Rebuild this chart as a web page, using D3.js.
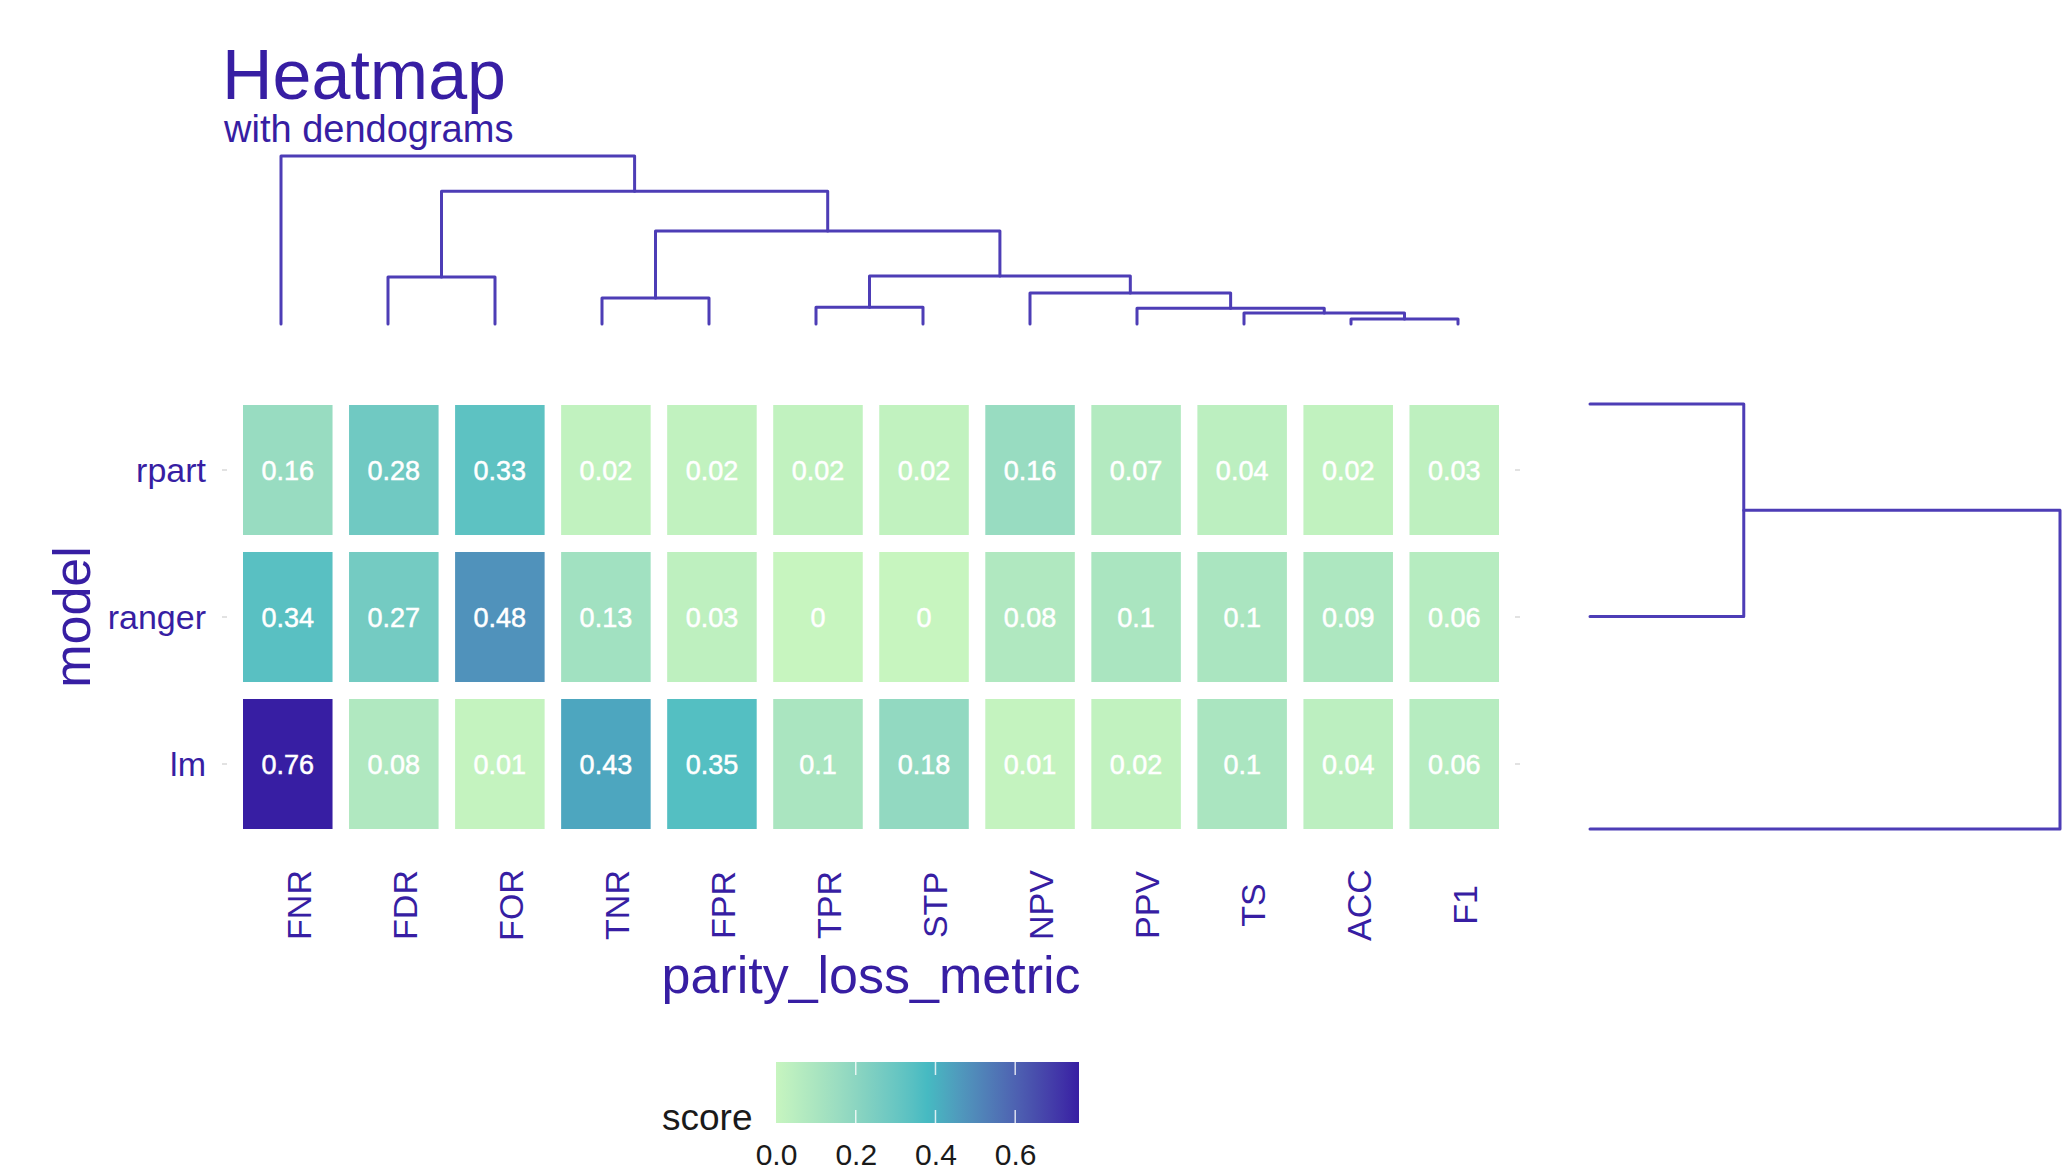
<!DOCTYPE html>
<html>
<head>
<meta charset="utf-8">
<script src="https://cdn.jsdelivr.net/npm/d3@7"></script>
<style>
  html, body { margin: 0; padding: 0; background: #ffffff; }
  svg { display: block; font-family: "Liberation Sans", Arial, Helvetica, sans-serif; }
</style>
</head>
<body>
<svg id="chart" width="2069" height="1170"></svg>
<script>
// ---------- data ----------
const metrics = ["FNR", "FDR", "FOR", "TNR", "FPR", "TPR", "STP", "NPV", "PPV", "TS", "ACC", "F1"];
const models = ["rpart", "ranger", "lm"];
const rpartScores  = [0.16, 0.28, 0.33, 0.02, 0.02, 0.02, 0.02, 0.16, 0.07, 0.04, 0.02, 0.03];
const rangerScores = [0.34, 0.27, 0.48, 0.13, 0.03, 0, 0, 0.08, 0.1, 0.1, 0.09, 0.06];
const lmScores     = [0.76, 0.08, 0.01, 0.43, 0.35, 0.1, 0.18, 0.01, 0.02, 0.1, 0.04, 0.06];
const legendTicks = [0.0, 0.2, 0.4, 0.6];

// column dendrogram merges
const colMergeLeft   = ["ACC", "TS", "PPV", "TPR", "TNR", "NPV", "FDR", "F", "D", "B", "FNR"];
const colMergeRight  = ["F1",  "J",  "I",   "STP", "FPR", "H",   "FOR", "G", "E", "C", "A"];
const colMergeId     = ["J",   "I",  "H",   "F",   "D",   "G",   "B",   "E", "C", "A", "root"];
const colMergeHeight = [0.024, 0.052, 0.075, 0.079, 0.123, 0.147, 0.222, 0.227, 0.439, 0.627, 0.794];

// row dendrogram merges
const rowMergeLeft   = ["rpart", "P"];
const rowMergeRight  = ["ranger", "lm"];
const rowMergeId     = ["P", "rootR"];
const rowMergeHeight = [0.30, 0.917];

// ---------- setup ----------
const svg = d3.select("#chart");
const purple = "#371ea3";
const lineCol = "#4d3db6";

const scoreTable = [rpartScores, rangerScores, lmScores];
const cells = [];
models.forEach((m, i) => metrics.forEach((k, j) => cells.push({model: m, metric: k, score: scoreTable[i][j]})));
const maxScore = d3.max(cells, d => d.score);

const color = d3.scaleLinear()
  .domain([0, maxScore / 2, maxScore])
  .range(["#c7f5bf", "#46bac2", "#371ea3"])
  .interpolate(d3.interpolateLab);

const x = d3.scaleBand().domain(metrics).range([234.75, 1507.25]).paddingInner(0.1557).paddingOuter(0.0778);
const y = d3.scaleBand().domain(models).range([396.5, 837.5]).paddingInner(0.1156).paddingOuter(0.0578);

// ---------- title ----------
svg.append("text").attr("x", 222).attr("y", 99)
  .attr("font-size", 70).attr("fill", purple).text("Heatmap");
svg.append("text").attr("x", 224).attr("y", 142)
  .attr("font-size", 38).attr("fill", purple).text("with dendograms");

// ---------- tiles ----------
const g = svg.append("g");
g.selectAll("rect.tile").data(cells).join("rect")
  .attr("class", "tile")
  .attr("x", d => x(d.metric))
  .attr("y", d => y(d.model))
  .attr("width", x.bandwidth())
  .attr("height", y.bandwidth())
  .attr("fill", d => color(d.score));

g.selectAll("text.val").data(cells).join("text")
  .attr("class", "val")
  .attr("x", d => x(d.metric) + x.bandwidth() / 2)
  .attr("y", d => y(d.model) + y.bandwidth() / 2)
  .attr("dy", "0.36em")
  .attr("text-anchor", "middle")
  .attr("font-size", 27)
  .attr("fill", "#ffffff")
  .attr("stroke", "#ffffff")
  .attr("stroke-width", 0.5)
  .text(d => String(d.score));

// ---------- axes ----------
svg.append("g").selectAll("text").data(models).join("text")
  .attr("x", 206)
  .attr("y", d => y(d) + y.bandwidth() / 2)
  .attr("dy", "0.35em")
  .attr("text-anchor", "end")
  .attr("font-size", 34)
  .attr("fill", purple)
  .text(d => d);

const tickG = svg.append("g").attr("stroke", "#d9d9d9").attr("stroke-width", 1.5);
models.forEach(m => {
  const yy = y(m) + y.bandwidth() / 2;
  tickG.append("line").attr("x1", 222).attr("x2", 227).attr("y1", yy).attr("y2", yy);
  tickG.append("line").attr("x1", 1515).attr("x2", 1520).attr("y1", yy).attr("y2", yy);
});

svg.append("g").selectAll("text").data(metrics).join("text")
  .attr("transform", d => `translate(${x(d) + x.bandwidth() / 2 + 23},905) rotate(-90)`)
  .attr("text-anchor", "middle")
  .attr("font-size", 34)
  .attr("fill", purple)
  .text(d => d);

svg.append("text").attr("transform", "translate(90,617) rotate(-90)")
  .attr("text-anchor", "middle").attr("font-size", 52).attr("fill", purple).text("model");
svg.append("text").attr("x", 871).attr("y", 993)
  .attr("text-anchor", "middle").attr("font-size", 52).attr("fill", purple).text("parity_loss_metric");

// ---------- column dendrogram ----------
const leafX = d3.scalePoint().domain(metrics).range([281, 1458]);
const hY = d3.scaleLinear().domain([0, d3.max(colMergeHeight)]).range([324, 156]);
const colNodes = {};
metrics.forEach(m => colNodes[m] = {x: leafX(m), h: 0});
const dg = svg.append("g").attr("fill", "none").attr("stroke", lineCol)
  .attr("stroke-width", 3).attr("stroke-linecap", "round").attr("stroke-linejoin", "round");
colMergeId.forEach((id, i) => {
  const L = colNodes[colMergeLeft[i]], R = colNodes[colMergeRight[i]];
  const h = colMergeHeight[i];
  colNodes[id] = {x: (L.x + R.x) / 2, h: h};
  dg.append("path").attr("d",
    `M${L.x},${hY(L.h)}V${hY(h)}H${R.x}V${hY(R.h)}`);
});

// ---------- row dendrogram ----------
const leafY = d3.scalePoint().domain(models).range([404, 829]);
const hX = d3.scaleLinear().domain([0, d3.max(rowMergeHeight)]).range([1590, 2060]);
const rowNodes = {};
models.forEach(m => rowNodes[m] = {y: leafY(m), h: 0});
rowMergeId.forEach((id, i) => {
  const L = rowNodes[rowMergeLeft[i]], R = rowNodes[rowMergeRight[i]];
  const h = rowMergeHeight[i];
  rowNodes[id] = {y: (L.y + R.y) / 2, h: h};
  dg.append("path").attr("d",
    `M${hX(L.h)},${L.y}H${hX(h)}V${R.y}H${hX(R.h)}`);
});

// ---------- legend ----------
const lx = d3.scaleLinear().domain([0, maxScore]).range([776, 1079]);
const defs = svg.append("defs");
const grad = defs.append("linearGradient").attr("id", "lg").attr("x1", "0%").attr("x2", "100%");
d3.range(0, 1.0001, 0.05).forEach(t => {
  grad.append("stop").attr("offset", (t * 100) + "%").attr("stop-color", color(t * maxScore));
});
svg.append("rect").attr("x", lx(0)).attr("y", 1062)
  .attr("width", lx(maxScore) - lx(0)).attr("height", 61).attr("fill", "url(#lg)");
const lt = svg.append("g").attr("stroke", "#ffffff").attr("stroke-width", 1.5).attr("opacity", 0.8);
legendTicks.filter(t => t > 0).forEach(t => {
  lt.append("line").attr("x1", lx(t)).attr("x2", lx(t)).attr("y1", 1062).attr("y2", 1075);
  lt.append("line").attr("x1", lx(t)).attr("x2", lx(t)).attr("y1", 1110).attr("y2", 1123);
});
const legAxis = svg.append("g").attr("transform", "translate(0,1135)")
  .call(d3.axisBottom(lx).tickValues(legendTicks).tickFormat(d3.format(".1f")).tickSize(0).tickPadding(0));
legAxis.select(".domain").remove();
legAxis.selectAll("text")
  .attr("font-size", 30).attr("fill", "#1a1a1a").attr("dy", null).attr("y", 30)
  .attr("font-family", "'Liberation Sans', Arial, sans-serif");
svg.append("text").attr("x", 662).attr("y", 1130)
  .attr("font-size", 37).attr("fill", "#1a1a1a").text("score");
</script>
</body>
</html>
